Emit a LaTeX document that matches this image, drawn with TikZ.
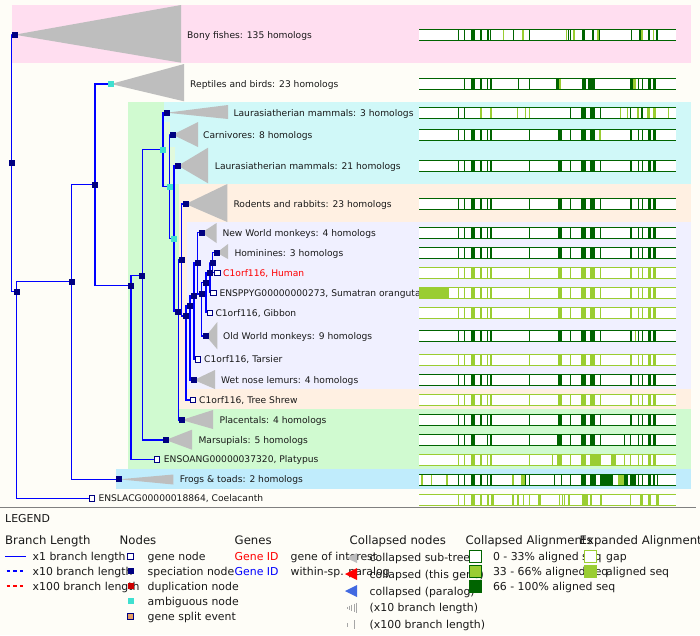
\documentclass[tikz,border=0pt]{standalone}
\usepackage{fontspec}
\setmainfont{DejaVu Sans}
\usetikzlibrary{positioning}

\pgfdeclarelayer{bands}
\pgfdeclarelayer{branches}
\pgfsetlayers{bands,branches,main}

\definecolor{cream}{RGB}{254,253,247}
\definecolor{bandpink}{RGB}{255,222,240}
\definecolor{bandgreen}{RGB}{208,250,208}
\definecolor{bandpale}{RGB}{226,250,220}
\definecolor{bandcyan}{RGB}{208,248,248}
\definecolor{bandpeach}{RGB}{255,240,226}
\definecolor{bandlav}{RGB}{240,240,255}
\definecolor{bandblue}{RGB}{192,236,252}
\definecolor{navy}{RGB}{0,0,128}
\definecolor{turq}{RGB}{64,224,208}
\definecolor{dupred}{RGB}{204,0,0}
\definecolor{splitorange}{RGB}{230,160,100}
\definecolor{collgray}{RGB}{190,190,190}
\definecolor{algdark}{RGB}{0,100,0}
\definecolor{alglight}{RGB}{154,205,50}
\definecolor{royal}{RGB}{65,105,225}
\definecolor{branchblue}{RGB}{0,0,255}

\newcommand{\treefont}{\fontsize{9.15}{11}\selectfont}
\newcommand{\legfont}{\fontsize{10.9}{13}\selectfont}
\newcommand{\headfont}{\fontsize{11.7}{14}\selectfont}

% alignment bar: top y, line colour, block colour, blocks
\newcommand{\alnbar}[4]{%
  \fill[white] (419,#1) rectangle (676,#1+11);
  \edef\blocklist{#4}%
  \foreach \a/\b in \blocklist {\fill[#3] (\a,#1+0.5) rectangle (\b,#1+10.5);}
  \draw[#2,line width=1pt] (419,#1) -- (676,#1) (419,#1+11) -- (676,#1+11);
}
\newcommand{\alnextra}[3]{%
  \foreach \a/\b in {#3} {\fill[#2] (\a,#1+0.5) rectangle (\b,#1+10.5);}
}
\def\basepat{458/459.3,464/465.3,471/475,480/482,487/488.3,489.7/492,529/530.3,557.7/562,570/571.3,580.7/586,590/595,600/601.3,630/632,638/639.3,642/643.3,648/650.7,653/656}

\begin{document}
\begin{tikzpicture}[x=1pt,y=-1pt]
\tikzstyle{spec} = [rectangle, fill=navy, minimum size=6pt, inner sep=0pt]
\tikzstyle{gene} = [rectangle, draw=navy, fill=white, line width=0.9pt, minimum size=5.5pt, inner sep=0pt]
\tikzstyle{ambig} = [rectangle, fill=turq, minimum size=6pt, inner sep=0pt]
\tikzstyle{branch} = [branchblue, line width=1.4pt]
\tikzstyle{lbl} = [anchor=base west, inner sep=0pt, font=\treefont, text=black!90, yshift=-3.3pt]
\tikzstyle{legtext} = [anchor=base west, inner sep=0pt, font=\legfont, text=black!90, yshift=-4pt]
\tikzstyle{head} = [anchor=base west, inner sep=0pt, font=\headfont, text=black!90, yshift=-4.3pt]

\useasboundingbox (0,0) rectangle (700,635);
\clip (0,0) rectangle (700,635);

% taxon bands
\begin{pgfonlayer}{bands}
\fill[cream] (0,0) rectangle (700,635);
\fill[bandpink] (12,5) rectangle (691,63);
\fill[bandgreen] (128,102) rectangle (691,469);
\fill[bandpale] (163,122) rectangle (179,184);
\fill[bandcyan] (164,102) rectangle (691,122);
\fill[bandcyan] (170,122) rectangle (691,147);
\fill[bandcyan] (175,147) rectangle (691,184);
\fill[bandpeach] (179,184) rectangle (691,409);
\fill[bandlav] (187,222) rectangle (691,389);
\fill[bandblue] (116,469) rectangle (691,489);
\draw[gray, line width=1pt] (0,507.3) -- (696,507.3);
\end{pgfonlayer}

% tree nodes
\node (root) [spec] at (11.7,163) {};
\node (nBony) [spec] at (14.7,34.7) {};
\node (nSarco) [spec] at (16.7,291.7) {};
\node (nTetra) [spec] at (71.7,281.7) {};
\node (nAmni) [spec] at (95,184.7) {};
\node (nRept) [ambig] at (111,84) {};
\node (nMamm) [spec] at (131,285.7) {};
\node (nTheria) [spec] at (142.3,275.7) {};
\node (nEuth) [ambig] at (163,149.7) {};
\node (nLaur3) [spec] at (166.7,112.7) {};
\node (nBoreo) [ambig] at (169.7,186.7) {};
\node (nCarn) [spec] at (172.7,134.7) {};
\node (nAmbig) [ambig] at (174,238.7) {};
\node (nLaur21) [spec] at (178,165.7) {};
\node (nEuA) [spec] at (178.3,311.7) {};
\node (nEuB) [spec] at (181.7,260) {};
\node (nRod) [spec] at (185.7,204) {};
\node (nEuC) [spec] at (186,316) {};
\node (nPrimA) [spec] at (190,305.7) {};
\node (nPrimB) [spec] at (194,295.7) {};
\node (nSimi) [spec] at (197.7,262.7) {};
\node (nNWM) [spec] at (201.7,232.7) {};
\node (nCatar) [spec] at (201.7,294) {};
\node (nHomA) [spec] at (206,282.7) {};
\node (nHomB) [spec] at (210,272.7) {};
\node (nHomC) [spec] at (212.7,262.7) {};
\node (nHominines) [spec] at (216.7,252.7) {};
\node (gHuman) [gene] at (217.3,272.7) {};
\node (gOrang) [gene] at (213.3,292.7) {};
\node (gGibbon) [gene] at (209.7,312.7) {};
\node (nOWM) [spec] at (206,336) {};
\node (gTarsier) [gene] at (197.7,359.3) {};
\node (nLemur) [spec] at (194,380) {};
\node (gShrew) [gene] at (192.7,400) {};
\node (nPlac) [spec] at (181.7,420) {};
\node (nMars) [spec] at (165.7,440) {};
\node (gPlaty) [gene] at (157,459.3) {};
\node (nFrog) [spec] at (119,479.3) {};
\node (gCoel) [gene] at (91.7,498.3) {};

\begin{pgfonlayer}{branches}
\foreach \p/\c in {root/nBony, root/nSarco, nSarco/nTetra, nSarco/gCoel,
    nTetra/nAmni, nTetra/nFrog, nAmni/nRept, nAmni/nMamm, nMamm/nTheria,
    nMamm/gPlaty, nTheria/nEuth, nTheria/nMars, nEuth/nLaur3, nEuth/nBoreo,
    nBoreo/nCarn, nBoreo/nAmbig, nAmbig/nLaur21, nAmbig/nEuA, nEuA/nEuB,
    nEuA/nPlac, nEuB/nRod, nEuB/nEuC, nEuC/nPrimA, nEuC/gShrew,
    nPrimA/nPrimB, nPrimA/nLemur, nPrimB/nSimi, nPrimB/gTarsier,
    nSimi/nNWM, nSimi/nCatar, nCatar/nHomA, nCatar/nOWM, nHomA/nHomB,
    nHomA/gGibbon, nHomB/nHomC, nHomB/gOrang, nHomC/nHominines, nHomC/gHuman}
  \draw[branch] (\p) |- (\c);
% collapsed sub-trees
\foreach \n/\bx/\ty/\by in {nBony/181/5/62.7, nRept/184/64/101.3, nLaur3/228/105/119,
    nCarn/198/122/147, nLaur21/208/147.7/183.3, nRod/227.3/184/222,
    nNWM/216.5/223/243, nHominines/228/244/259, nOWM/217.3/322/349.3,
    nLemur/215/370/389, nPlac/213/410/429, nMars/192/429.7/449.7,
    nFrog/173.3/474.5/484.5}
  \fill[collgray] (\n.center) -- (\bx,\ty) -- (\bx,\by) -- cycle;
\end{pgfonlayer}

% leaf labels
\node[lbl] (tBony) at (187,34.7) {Bony fishes: 135 homologs};
\node[lbl] (tRept) at (190,84) {Reptiles and birds: 23 homologs};
\node[lbl] (tLaur3) at (233.3,112.7) {Laurasiatherian mammals: 3 homologs};
\node[lbl] (tCarn) at (203,134.7) {Carnivores: 8 homologs};
\node[lbl] (tLaur21) at (214.7,165.7) {Laurasiatherian mammals: 21 homologs};
\node[lbl] (tRod) at (233.3,204) {Rodents and rabbits: 23 homologs};
\node[lbl] (tNWM) at (222.3,232.7) {New World monkeys: 4 homologs};
\node[lbl] (tHominines) at (234.3,252.7) {Hominines: 3 homologs};
\node[lbl, text=red] (tHuman) at (223,272.7) {C1orf116, Human};
\node[lbl] (tOrang) at (219.3,292.7) {ENSPPYG00000000273, Sumatran orangutan};
\node[lbl] (tGibbon) at (215.3,312.7) {C1orf116, Gibbon};
\node[lbl] (tOWM) at (223,336) {Old World monkeys: 9 homologs};
\node[lbl] (tTarsier) at (204,359.3) {C1orf116, Tarsier};
\node[lbl] (tLemur) at (221,380) {Wet nose lemurs: 4 homologs};
\node[lbl] (tShrew) at (199,400) {C1orf116, Tree Shrew};
\node[lbl] (tPlac) at (219.3,420) {Placentals: 4 homologs};
\node[lbl] (tMars) at (198.3,440) {Marsupials: 5 homologs};
\node[lbl] (tPlaty) at (163.7,459.3) {ENSOANG00000037320, Platypus};
\node[lbl] (tFrog) at (179.7,479.3) {Frogs \& toads: 2 homologs};
\node[lbl] (tCoel) at (98.3,498.3) {ENSLACG00000018864, Coelacanth};

% alignments
\alnbar{29.3}{algdark}{algdark}{458/459.3,464/465.3,471/475,480/482.3,487/488.7,489.7/491,513/514.3,529/530.3,567.7/568.7,570/571.3,582/584.7,592/594.3,599.3/600.3,631/632.3,639.3/641.3,648/650.3,656/657.7}
\alnextra{29.3}{alglight}{503/504,522/524,566/567.3,573/574.7,597.3/599,641.3/642.7,653.3/654.3}
\alnbar{78}{algdark}{algdark}{464/465.3,471/475,480/482,487/488.3,489.7/492,518/519.3,529/530.3,556/559.3,581.7/585.7,588/595,630/632.7,638/639.3,642/643.3,648/650.7,653/656}
\alnextra{78}{alglight}{559.3/561.3,632.7/636}
\alnbar{107}{algdark}{algdark}{458/459.3,464/465.3,570/571.3,580.7/586,590/595,600/601.3,630/631.3,641.3/642.7}
\alnextra{107}{alglight}{480.3/481.7,490/492,517/518.3,525/526.3,529/530.3,620/621.3,627/628.3,637/639.3,647/650.3,653/656,668/669.3}
\alnbar{129.3}{algdark}{algdark}{458/459.3,464/465.3,471/475,480/482,487/488.3,489.7/492,529/530.3,557.7/562,570/571.3,580.7/586,590/595,630/632,638/639.3,642/643.3,648/650.7,653/656}
\alnextra{129.3}{alglight}{599.3/601}
\alnbar{160}{algdark}{algdark}{\basepat}
\alnbar{198}{algdark}{algdark}{\basepat}
\alnbar{227.3}{algdark}{algdark}{\basepat}
\alnbar{247.3}{algdark}{algdark}{\basepat}
\alnbar{267.3}{alglight}{alglight}{\basepat}
\alnbar{287.3}{alglight}{alglight}{\basepat}
\alnextra{287.3}{alglight}{419/449}
\alnbar{307.3}{alglight}{alglight}{\basepat}
\alnbar{330}{algdark}{algdark}{\basepat}
\alnextra{330}{alglight}{635.3/636.3}
\alnbar{354.3}{alglight}{alglight}{\basepat}
\alnbar{374.3}{algdark}{algdark}{\basepat}
\alnbar{394.3}{alglight}{alglight}{\basepat}
\alnbar{414.3}{algdark}{algdark}{\basepat}
\alnbar{434.3}{algdark}{algdark}{458/459.3,464/465.3,471/475,487/488.3,489.7/492,529/530.3,557/561.7,570/571.3,580.7/586,590/595,600/601.3,624/625.3,630/631.3,638/639.3,642/643.3,648/650.7,653/656}
\alnbar{454.3}{alglight}{alglight}{458/459.3,464/465.3,471/475,480/482,487/488.3,489.7/492,529/530.3,552/553.3,557/561.7,570/571.3,580.7/586,590/600.7,611/615.7,624/625.3,630/631.3,638/639.3,642/643.3,648/650.7,653/656}
\alnbar{474.3}{algdark}{algdark}{458/459.3,464/465.3,471/475,480/482,487/488.3,489.7/492,525/526.3,529/530.3,554/555.3,561/562.3,570/571.3,580.7/586,590/595.7,600.3/613,624/628.3,630/636,638/639.3,642/643.3,648/650.7,653/655,656.7/658}
\alnextra{474.3}{alglight}{421/422.7,431/432,446/448.3,512/513.7,521/525,617.7/624}
\alnbar{494.3}{alglight}{alglight}{458/459.3,464/465.3,471/475,480/482,487/489,491/493.7,512/513.7,517.3/519,523/524,528.7/530,538.3/541,558.7/560,561.7/563,563.7/565,568.3/569.5,582/588,590.3/592.3,600.3/601.5,630/631.3,640/642.7,648/650.7,656/658.7}

% legend
\node[legtext] (legTitle) at (5,518.3) {LEGEND};
\node[head] (hBranch) at (5,540) {Branch Length};
\node[head] (hNodes) at (119.5,540) {Nodes};
\node[head] (hGenes) at (234.5,540) {Genes};
\node[head] (hColl) at (349.5,540) {Collapsed nodes};
\node[head] (hCollAln) at (465.5,540) {Collapsed Alignments};
\node[head] (hExpAln) at (579.5,540) {Expanded Alignments};

\draw[branchblue, line width=1pt] (5,556) -- (26,556);
\draw[branchblue, line width=1.2pt, dash pattern=on 3.3pt off 3.3pt] (6.7,571) -- (24,571);
\draw[red, line width=1.2pt, dash pattern=on 3.3pt off 3.3pt] (6.7,586) -- (24,586);
\node[legtext] (lx1) at (32.5,556) {x1 branch length};
\node[legtext] (lx10) at (32.5,571) {x10 branch length};
\node[legtext] (lx100) at (32.5,586) {x100 branch length};

\node (legGene) [gene] at (130.3,556.2) {};
\node (legSpec) [spec] at (130.5,571.2) {};
\node (legDup) [spec, fill=dupred] at (130.5,586.2) {};
\node (legAmb) [ambig] at (130.5,601.2) {};
\node (legSplit) [gene, fill=splitorange] at (130.3,616.2) {};
\node[legtext] (lGene) at (147.5,556) {gene node};
\node[legtext] (lSpec) at (147.5,571) {speciation node};
\node[legtext] (lDup) at (147.5,586) {duplication node};
\node[legtext] (lAmb) at (147.5,601) {ambiguous node};
\node[legtext] (lSplit) at (147.5,616) {gene split event};

\node[legtext, text=red] (lGeneRed) at (234.5,556) {Gene ID};
\node[legtext, text=blue] (lGeneBlue) at (234.5,571) {Gene ID};
\node[legtext] (lInterest) at (290.5,556) {gene of interest};
\node[legtext] (lParalog) at (290.5,571) {within-sp. paralog};

\fill[collgray] (346.5,558) -- (357,553) -- (357,563) -- cycle;
\fill[red] (345,574) -- (357,568) -- (357,580) -- cycle;
\fill[royal] (345,591) -- (357,585) -- (357,597) -- cycle;
\foreach \lx/\lh in {347/2, 349.3/4, 351.7/6, 354/8, 356.3/10}
  \draw[gray!70, line width=0.7pt] (\lx,607.5-\lh/2) -- (\lx,607.5+\lh/2);
\draw[gray!70, line width=0.7pt] (347.3,623) -- (347.3,627);
\draw[gray!70, line width=0.7pt] (354,620) -- (354,629);
\node[legtext] (lSub) at (369.5,557) {collapsed sub-tree};
\node[legtext] (lThis) at (369.5,574) {collapsed (this gene)};
\node[legtext] (lPara) at (369.5,591) {collapsed (paralog)};
\node[legtext] (lTen) at (369.5,607.5) {(x10 branch length)};
\node[legtext] (lHund) at (369.5,624.5) {(x100 branch length)};

\node[legtext] (lLow) at (492.8,556) {0 - 33\% aligned seq};
\node[legtext] (lMid) at (492.8,571) {33 - 66\% aligned seq};
\node[legtext] (lHigh) at (492.8,586) {66 - 100\% aligned seq};
\filldraw[fill=white, draw=algdark, line width=1pt] (469.5,550.5) rectangle (481.5,562.5);
\filldraw[fill=alglight, draw=algdark, line width=1pt] (469.5,565.5) rectangle (481.5,577.5);
\fill[algdark] (469,580) rectangle (482,593);

\filldraw[fill=white, draw=alglight, line width=1pt] (584.5,550.5) rectangle (596.5,562.5);
\fill[alglight] (584,565) rectangle (597,578);
\node[legtext] (lGap) at (606,556) {gap};
\node[legtext] (lAligned) at (606,571) {aligned seq};
\end{tikzpicture}
\end{document}
